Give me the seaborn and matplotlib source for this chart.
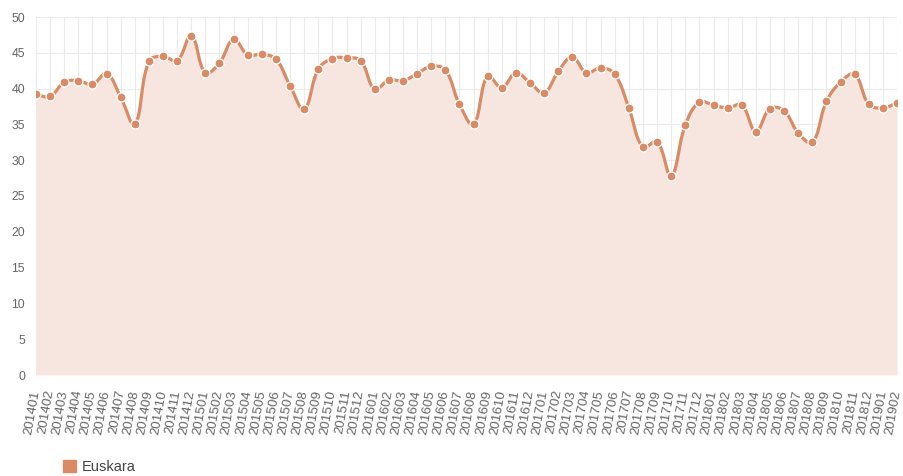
import numpy as np
import pandas as pd
import matplotlib
matplotlib.use("Agg")
import matplotlib.pyplot as plt
import seaborn as sns
from matplotlib.patches import Patch

months = [f"{y}{m:02d}" for y in range(2014, 2020) for m in range(1, 13)][:62]

euskara = [
    39.2, 38.9, 40.9, 41.1, 40.6, 42.1, 38.8, 35.0, 43.8, 44.5, 43.9, 47.4,
    42.2, 43.6, 46.9, 44.7, 44.8, 44.1, 40.4, 37.1, 42.7, 44.2, 44.3, 43.9,
    39.9, 41.2, 41.1, 42.1, 43.1, 42.6, 37.8, 35.0, 41.8, 40.1, 42.2, 40.8,
    39.4, 42.4, 44.4, 42.2, 42.9, 42.0, 37.3, 31.8, 32.6, 27.8, 34.9, 38.1,
    37.7, 37.3, 37.7, 34.0, 37.2, 36.9, 33.8, 32.5, 38.2, 40.9, 42.0, 37.8,
    37.3, 38.0,
]

LINE = "#d98b65"
FILL = "#f6e6df"
GRID = "#ebebeb"
TEXT = "#666666"


def smooth_curve(x, y, tension=0.4, sx=14.1, sy=7.16, n=20):
    # bezier smoothing similar to chart.js line tension
    px = np.asarray(x, float) * sx
    py = np.asarray(y, float) * sy
    cp_prev, cp_next = [], []
    for i in range(len(px)):
        p0 = (px[max(i - 1, 0)], py[max(i - 1, 0)])
        p1 = (px[i], py[i])
        p2 = (px[min(i + 1, len(px) - 1)], py[min(i + 1, len(px) - 1)])
        d01 = np.hypot(p1[0] - p0[0], p1[1] - p0[1])
        d12 = np.hypot(p2[0] - p1[0], p2[1] - p1[1])
        tot = d01 + d12 if d01 + d12 > 0 else 1
        fa = tension * d01 / tot
        fb = tension * d12 / tot
        cp_prev.append((p1[0] - fa * (p2[0] - p0[0]), p1[1] - fa * (p2[1] - p0[1])))
        cp_next.append((p1[0] + fb * (p2[0] - p0[0]), p1[1] + fb * (p2[1] - p0[1])))
    xs, ys = [], []
    t = np.linspace(0, 1, n, endpoint=False)
    for i in range(len(px) - 1):
        a = np.array([px[i], py[i]])
        b = np.array(cp_next[i])
        c = np.array(cp_prev[i + 1])
        d = np.array([px[i + 1], py[i + 1]])
        pts = ((1 - t) ** 3)[:, None] * a + (3 * (1 - t) ** 2 * t)[:, None] * b \
            + (3 * (1 - t) * t ** 2)[:, None] * c + (t ** 3)[:, None] * d
        xs.extend(pts[:, 0])
        ys.extend(pts[:, 1])
    xs.append(px[-1])
    ys.append(py[-1])
    return np.array(xs) / sx, np.array(ys) / sy


sns.set_theme(style="white")
plt.rcParams["font.family"] = ["Liberation Sans", "DejaVu Sans"]

df = pd.DataFrame({"month": months, "value": euskara})
df["pos"] = np.arange(len(df))

fig = plt.figure(figsize=(9.04, 4.76), dpi=100)
ax = fig.add_axes([36 / 904, 1 - 375 / 476, (897 - 36) / 904, (375 - 17) / 476])

cx, cy = smooth_curve(df["pos"], df["value"])
ax.fill_between(cx, 0, cy, color=FILL, zorder=1, linewidth=0)
ax.plot(cx, cy, color=LINE, linewidth=2.3, zorder=3)
sns.scatterplot(data=df, x="pos", y="value", ax=ax, color=LINE, s=42,
                edgecolor="white", linewidth=0.9, zorder=4, legend=False)

ax.set_xlim(0, len(df) - 1)
ax.set_ylim(0, 50)
ax.set_yticks(range(0, 51, 5))
ax.set_xticks(df["pos"])
ax.set_xticklabels(df["month"], rotation=80, ha="right", va="center",
                   rotation_mode="anchor", fontsize=9.6)
ax.set_xlabel("")
ax.set_ylabel("")
ax.grid(True, color=GRID, linewidth=0.8, zorder=0)
ax.set_axisbelow(True)
for s in ax.spines.values():
    s.set_visible(False)
ax.tick_params(axis="both", length=5, width=0.8, color=GRID, labelcolor=TEXT, pad=3)
ax.tick_params(axis="y", labelsize=8.8)
ax.tick_params(axis="x", pad=6)

fig.legend(handles=[Patch(facecolor=LINE, edgecolor=LINE, label="Euskara")],
           loc="lower left", bbox_to_anchor=(50 / 904, -11 / 476), frameon=False,
           handlelength=0.9, handleheight=0.9, handletextpad=0.35,
           prop={"size": 10.5}, labelcolor="#444444")

fig.savefig("out.png", dpi=100)
